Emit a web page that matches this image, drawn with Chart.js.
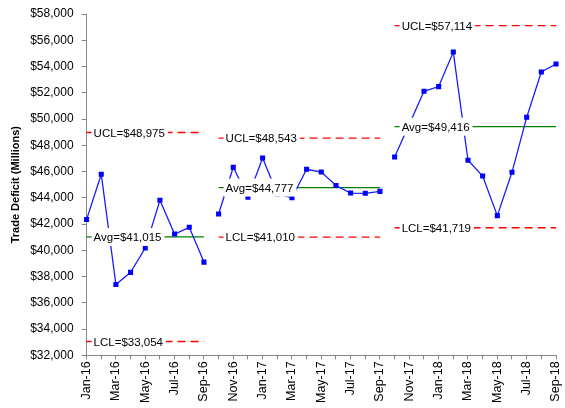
<!DOCTYPE html>
<html>
<head>
<meta charset="utf-8">
<script src="https://cdn.jsdelivr.net/npm/chart.js@4.4.1/dist/chart.umd.min.js"></script>
<style>
  html, body { margin: 0; padding: 0; background: #fff; }
  #wrap { width: 565px; height: 408px; position: relative; }
</style>
</head>
<body>
<div id="wrap"><canvas id="chart"></canvas></div>
<script>
// months on the x axis
var months = ['Jan-16','Feb-16','Mar-16','Apr-16','May-16','Jun-16','Jul-16','Aug-16','Sep-16',
              'Oct-16','Nov-16','Dec-16','Jan-17','Feb-17','Mar-17','Apr-17','May-17','Jun-17','Jul-17','Aug-17','Sep-17',
              'Oct-17','Nov-17','Dec-17','Jan-18','Feb-18','Mar-18','Apr-18','May-18','Jun-18','Jul-18','Aug-18','Sep-18'];

// trade deficit values per segment (millions)
var seg1 = [42340, 45790, 37390, 38320, 40170, 43810, 41240, 41750, 39100];
var seg2 = [42760, 46320, 44050, 47030, 44300, 44000, 46170, 45960, 44930, 44360, 44340, 44490];
var seg3 = [47110, 49600, 52110, 52470, 55100, 46860, 45660, 42640, 45940, 50130, 53580, 54190];

// first index of each segment
var segStart = [0, 9, 21];

// control limits per segment
var ucl = [48975, 48543, 57114];
var avg = [41015, 44777, 49416];
var lcl = [33054, 41010, 41719];

var yTicks = { min: 32000, max: 58000, step: 2000 };

var segs = [seg1, seg2, seg3];

function place(vals, start) {
  var arr = [];
  for (var i = 0; i < months.length; i++) arr.push(null);
  for (var j = 0; j < vals.length; j++) arr[start + j] = vals[j];
  return arr;
}
function flat(v, s) {
  var n = segs[s].length, vals = [];
  for (var j = 0; j < n; j++) vals.push(v);
  return place(vals, segStart[s]);
}
function money(v) {
  return '$' + v.toLocaleString('en-US');
}

var datasets = [];
segs.forEach(function(vals, s) {
  datasets.push({
    data: place(vals, segStart[s]),
    borderColor: '#1a1aff',
    backgroundColor: '#0000ff',
    borderWidth: 1.3,
    pointStyle: 'rect',
    pointRadius: 3.6,
    pointBorderWidth: 0,
    spanGaps: false,
    tension: 0
  });
});
segs.forEach(function(vals, s) {
  datasets.push({ data: flat(avg[s], s), borderColor: '#008000', borderWidth: 1.3, pointRadius: 0 });
  datasets.push({ data: flat(ucl[s], s), borderColor: '#ff0000', borderWidth: 1.3, borderDash: [8, 5], pointRadius: 0 });
  datasets.push({ data: flat(lcl[s], s), borderColor: '#ff0000', borderWidth: 1.3, borderDash: [8, 5], pointRadius: 0 });
});

// writes the UCL / Avg / LCL tags with white boxes over the lines
var limitTags = {
  id: 'limitTags',
  afterDatasetsDraw: function(chart) {
    var ctx = chart.ctx, xs = chart.scales.x, ys = chart.scales.y;
    ctx.save();
    ctx.font = '11.5px "Liberation Sans", Arial, sans-serif';
    ctx.textBaseline = 'middle';
    segs.forEach(function(vals, s) {
      var x0 = xs.getPixelForValue(segStart[s]);
      [['UCL=', ucl[s]], ['Avg=', avg[s]], ['LCL=', lcl[s]]].forEach(function(t) {
        var txt = t[0] + money(t[1]);
        var y = ys.getPixelForValue(t[1]);
        var w = ctx.measureText(txt).width;
        ctx.fillStyle = '#fff';
        ctx.fillRect(x0 + 5, y - 9, w + 5, 18);
        ctx.fillStyle = '#000';
        ctx.fillText(txt, x0 + 7, y + 1);
      });
    });
    ctx.restore();
  }
};

new Chart(document.getElementById('chart'), {
  type: 'line',
  data: { labels: months, datasets: datasets },
  plugins: [limitTags],
  options: {
    responsive: true,
    maintainAspectRatio: false,
    animation: false,
    layout: { padding: { left: 9, right: 9, top: 14, bottom: 3 } },
    plugins: { legend: { display: false }, tooltip: { enabled: false } },
    scales: {
      x: {
        offset: false,
        afterFit: function(s) { s.paddingLeft = 0; s.paddingRight = 0; },
        grid: { display: true, drawOnChartArea: false, drawTicks: true, tickLength: 4, color: '#868686' },
        border: { color: '#868686' },
        ticks: {
          autoSkip: false, minRotation: 90, maxRotation: 90, padding: 2,
          color: '#000',
          font: { family: '"Liberation Sans", Arial, sans-serif', size: 12.5 },
          callback: function(v, i) { return i % 2 === 0 ? months[i] : ''; }
        }
      },
      y: {
        min: yTicks.min, max: yTicks.max,
        afterFit: function(s) { s.paddingTop = 0; s.paddingBottom = 0; },
        grid: { display: true, drawOnChartArea: false, drawTicks: true, tickLength: 5, color: '#868686' },
        border: { color: '#868686' },
        ticks: {
          stepSize: yTicks.step, padding: 8, color: '#000',
          font: { family: '"Liberation Sans", Arial, sans-serif', size: 12 },
          callback: function(v) { return money(v); }
        },
        title: {
          display: true, text: 'Trade Deficit (Millions)', color: '#000',
          font: { family: '"Liberation Sans", Arial, sans-serif', size: 11, weight: 'bold' },
          padding: { top: 0, bottom: 0 }
        }
      }
    }
  }
});
</script>
</body>
</html>
